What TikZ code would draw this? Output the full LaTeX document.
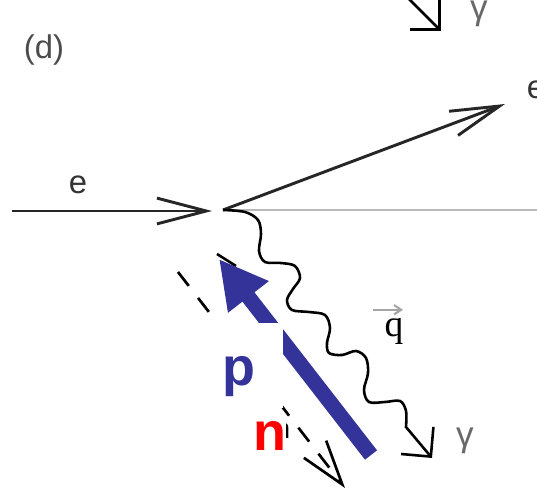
\documentclass[tikz,border=0pt]{standalone}
\usepackage{fontspec}
\setmainfont{Liberation Sans}
\newfontfamily\qfont{Liberation Serif}
\usetikzlibrary{arrows.meta}
\definecolor{ProtonBlue}{RGB}{51,51,153}
\definecolor{NeutronRed}{RGB}{255,0,0}
\definecolor{LabelGray}{RGB}{105,105,105}
\tikzset{
  electron/.style={line width=2.5pt,black!85,-{Straight Barb[length=42pt,width=22pt]}},
  photon/.style={line width=2.2pt,-{Straight Barb[length=18pt,width=36pt]}},
  recoil/.style={line width=2.3pt,dash pattern=on 15pt off 13pt,
    -{Straight Barb[length=38pt,width=24pt]}},
  nucleon/.style={ProtonBlue,line width=13pt,-{Triangle[length=41pt,width=41pt]}},
  txt/.style={inner sep=0pt,font=\fontsize{28}{30}\selectfont},
  greek/.style={inner sep=0pt,text=LabelGray,font=\fontsize{30}{32}\selectfont},
  bigletter/.style={inner sep=0pt,font=\fontsize{46}{48}\selectfont\bfseries}
}

\begin{document}
\begin{tikzpicture}[x=0.03cm,y=-0.03cm]
  \useasboundingbox (0,0) rectangle (537,488);
  % vertex and end points
  \coordinate (ein) at (12,211);
  \coordinate (vin) at (212,211);
  \coordinate (vout) at (223,210);
  \coordinate (eout) at (505,104);
  \coordinate (axis) at (537,210);
  \coordinate (gend) at (432,458);
  \coordinate (gtop) at (441,31);
  \coordinate (nstart) at (178,272);
  \coordinate (nend) at (345,488);
  \coordinate (ptail) at (371,455);
  \coordinate (ptip) at (219,259);

  % electron lines
  \draw[gray!55,line width=1.8pt] (vout) -- (axis);
  \draw[electron] (ein) -- (vin);
  \draw[electron] (vout) -- (eout);

  % virtual photon
  \draw[photon] plot[smooth,tension=0.55] coordinates {
      (vout) (245,212) (258,220) (261,234) (259,251) (265,262) (281,263)
      (295,266) (300,278) (293,289) (287,300) (292,310) (309,312) (325,315)
      (330,328) (327,343) (329,353) (342,355) (356,351) (366,358) (368,373)
      (364,390) (369,402) (385,402) (400,401) (406,411) (406,427)} -- (gend);
  \draw[photon] (400,-10) -- (gtop);

  % recoil line
  \draw[recoil] (nstart) -- (nend);
  \draw[line width=2.2pt] (217,254) -- (236,266);

  % nucleon arrow
  \draw[nucleon] (ptail) -- (ptip);
  \fill[white] (195,323) rectangle (283,408);

  % labels
  \node[txt,text=black!70] (panel) at (44,50) {(d)};
  \node[txt,text=black!80] (elin) at (78,185) {e};
  \node[txt,text=black!80] (elout) at (536,90) {e};
  \node[greek] (gamtop) at (479,14) {γ};
  \node[greek] (gambot) at (465,441) {γ};
  \node[inner sep=0pt,font=\qfont\fontsize{32}{34}\selectfont] (qlabel) at (394,331) {q};
  \draw[gray!70,line width=1.8pt,-{Straight Barb[length=6pt,width=8pt]}]
    ([shift={(-21,-8)}]qlabel.north) -- ([shift={(9,-8)}]qlabel.north);
  \node[inner sep=0pt,anchor=base,font=\fontsize{24}{26}\selectfont] (nsmall) at (282.5,438) {n};
  \node[bigletter,text=ProtonBlue,anchor=base] (plabel) at (238.5,385) {p};
  \node[bigletter,text=NeutronRed,fill=white,anchor=base] (nlabel) at (270,450) {n};
\end{tikzpicture}
\end{document}
